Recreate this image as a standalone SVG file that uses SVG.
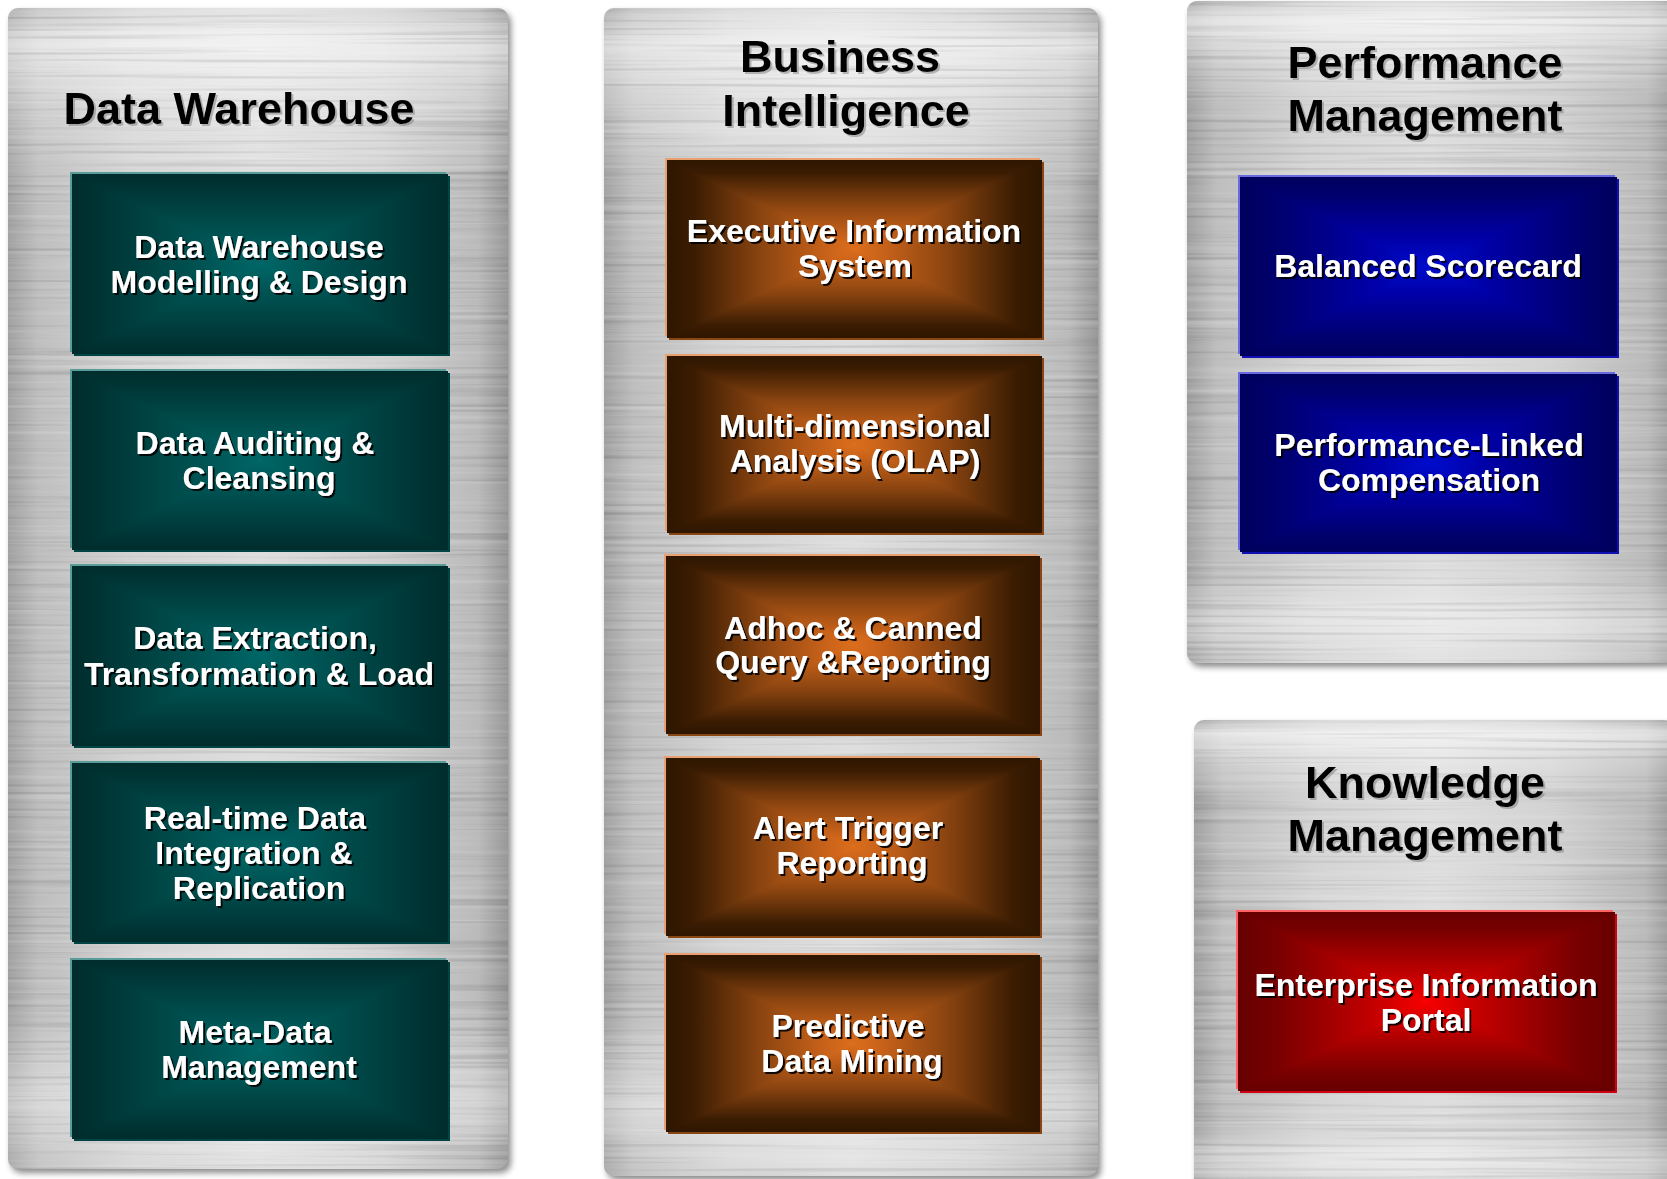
<svg xmlns="http://www.w3.org/2000/svg" width="1667" height="1179" viewBox="0 0 1667 1179">
<style>
.ttl{font-family:"Liberation Sans",Arial,Helvetica,sans-serif;font-weight:bold;font-size:45px;fill:#000;text-anchor:middle}
.lbl{font-family:"Liberation Sans",Arial,Helvetica,sans-serif;font-weight:bold;font-size:32px;fill:#fff;text-anchor:middle}
</style>
<defs>
  <!-- brushed metal panel shading -->
  <linearGradient id="metal" x1="0" y1="0" x2="1" y2="0">
    <stop offset="0" stop-color="#a2a2a2"/>
    <stop offset="0.06" stop-color="#bebebe"/>
    <stop offset="0.25" stop-color="#d4d4d4"/>
    <stop offset="0.5" stop-color="#dedede"/>
    <stop offset="0.75" stop-color="#d2d2d2"/>
    <stop offset="0.94" stop-color="#bababa"/>
    <stop offset="1" stop-color="#989898"/>
  </linearGradient>
  <linearGradient id="sheen" x1="0" y1="0" x2="0" y2="1">
    <stop offset="0" stop-color="#fff" stop-opacity="0.15"/>
    <stop offset="0.03" stop-color="#fff" stop-opacity="0.6"/>
    <stop offset="0.09" stop-color="#fff" stop-opacity="0.25"/>
    <stop offset="0.16" stop-color="#fff" stop-opacity="0"/>
    <stop offset="0.86" stop-color="#fff" stop-opacity="0"/>
    <stop offset="0.94" stop-color="#fff" stop-opacity="0.4"/>
    <stop offset="1" stop-color="#fff" stop-opacity="0.1"/>
  </linearGradient>
  <filter id="brushLight" x="0" y="0" width="1" height="1">
    <feTurbulence type="fractalNoise" baseFrequency="0.002 0.2" numOctaves="2" seed="3"/>
    <feColorMatrix type="matrix" values="0 0 0 0 1  0 0 0 0 1  0 0 0 0 1  0.5 0 0 0 -0.24"/>
    <feComposite in2="SourceGraphic" operator="in"/>
  </filter>
  <filter id="brushDark" x="0" y="0" width="1" height="1">
    <feTurbulence type="fractalNoise" baseFrequency="0.003 0.25" numOctaves="2" seed="11"/>
    <feColorMatrix type="matrix" values="0 0 0 0 0  0 0 0 0 0  0 0 0 0 0  0.35 0 0 0 -0.18"/>
    <feComposite in2="SourceGraphic" operator="in"/>
  </filter>
  <filter id="pshadow" x="-5%" y="-5%" width="110%" height="110%">
    <feGaussianBlur stdDeviation="3"/>
  </filter>
  <filter id="txtSh" x="-5%" y="-30%" width="115%" height="160%">
    <feDropShadow dx="2" dy="2" stdDeviation="0.4" flood-color="#000" flood-opacity="0.9"/>
  </filter>
  <filter id="ttlSh" x="-5%" y="-30%" width="115%" height="160%">
    <feDropShadow dx="2" dy="2" stdDeviation="0.6" flood-color="#7a7a7a" flood-opacity="0.5"/>
  </filter>

  <!-- rectangular (pyramid) box gradients: edge -> centre -->
  <linearGradient id="gTeal" x1="0" y1="0" x2="0" y2="1">
    <stop offset="0" stop-color="#002c2c"/>
    <stop offset="0.15" stop-color="#003434"/>
    <stop offset="0.6" stop-color="#004e4e"/>
    <stop offset="1" stop-color="#006666"/>
  </linearGradient>
  <linearGradient id="gOrange" x1="0" y1="0" x2="0" y2="1">
    <stop offset="0" stop-color="#2e1600"/>
    <stop offset="0.14" stop-color="#3a1c02"/>
    <stop offset="0.5" stop-color="#8a4410"/>
    <stop offset="0.85" stop-color="#c8621a"/>
    <stop offset="1" stop-color="#dc6e1c"/>
  </linearGradient>
  <linearGradient id="gBlue" x1="0" y1="0" x2="0" y2="1">
    <stop offset="0" stop-color="#00005c"/>
    <stop offset="0.2" stop-color="#00006e"/>
    <stop offset="0.7" stop-color="#0000a8"/>
    <stop offset="1" stop-color="#000ccc"/>
  </linearGradient>
  <linearGradient id="gRed" x1="0" y1="0" x2="0" y2="1">
    <stop offset="0" stop-color="#660000"/>
    <stop offset="0.2" stop-color="#780000"/>
    <stop offset="0.7" stop-color="#c00000"/>
    <stop offset="1" stop-color="#f80000"/>
  </linearGradient>

  <!-- unit pieces: half-height band (top) and side triangle; mirrored by transforms -->
  <rect id="half" width="1" height="0.5"/>
  <polygon id="tri" points="0,0 1,0 0.5,0.5"/>
  <g id="body-teal" fill="url(#gTeal)">
    <use href="#half"/>
    <use href="#half" transform="matrix(1 0 0 -1 0 1)"/>
    <use href="#tri" transform="matrix(0 1 1 0 0 0)"/>
    <use href="#tri" transform="matrix(0 1 -1 0 1 0)"/>
  </g>
  <g id="body-orange" fill="url(#gOrange)">
    <use href="#half"/>
    <use href="#half" transform="matrix(1 0 0 -1 0 1)"/>
    <use href="#tri" transform="matrix(0 1 1 0 0 0)"/>
    <use href="#tri" transform="matrix(0 1 -1 0 1 0)"/>
  </g>
  <g id="body-blue" fill="url(#gBlue)">
    <use href="#half"/>
    <use href="#half" transform="matrix(1 0 0 -1 0 1)"/>
    <use href="#tri" transform="matrix(0 1 1 0 0 0)"/>
    <use href="#tri" transform="matrix(0 1 -1 0 1 0)"/>
  </g>
  <g id="body-red" fill="url(#gRed)">
    <use href="#half"/>
    <use href="#half" transform="matrix(1 0 0 -1 0 1)"/>
    <use href="#tri" transform="matrix(0 1 1 0 0 0)"/>
    <use href="#tri" transform="matrix(0 1 -1 0 1 0)"/>
  </g>
</defs>

<rect width="1667" height="1179" fill="#fff"/>

<!-- ===== Panels ===== -->
<g id="panel-data-warehouse">
  <rect x="11" y="12" width="500" height="1161" rx="10" fill="#000" opacity="0.45" filter="url(#pshadow)"/>
  <rect x="8" y="8" width="500" height="1161" rx="10" fill="url(#metal)"/>
  <rect x="8" y="8" width="500" height="1161" rx="10" fill="url(#sheen)"/>
  <rect x="8" y="8" width="500" height="1161" rx="10" fill="#fff" filter="url(#brushLight)"/>
  <rect x="8" y="8" width="500" height="1161" rx="10" fill="#000" filter="url(#brushDark)"/>
  <text class="ttl" x="239" y="124" filter="url(#ttlSh)">Data Warehouse</text>
</g>

<g id="panel-business-intelligence">
  <rect x="607" y="12" width="494" height="1168" rx="10" fill="#000" opacity="0.45" filter="url(#pshadow)"/>
  <rect x="604" y="8" width="494" height="1168" rx="10" fill="url(#metal)"/>
  <rect x="604" y="8" width="494" height="1168" rx="10" fill="url(#sheen)"/>
  <rect x="604" y="8" width="494" height="1168" rx="10" fill="#fff" filter="url(#brushLight)"/>
  <rect x="604" y="8" width="494" height="1168" rx="10" fill="#000" filter="url(#brushDark)"/>
  <g filter="url(#ttlSh)">
    <text class="ttl" x="840" y="72">Business</text>
    <text class="ttl" x="846" y="126">Intelligence</text>
  </g>
</g>

<g id="panel-performance-management">
  <rect x="1190" y="5" width="490" height="662" rx="10" fill="#000" opacity="0.45" filter="url(#pshadow)"/>
  <rect x="1187" y="1" width="490" height="662" rx="10" fill="url(#metal)"/>
  <rect x="1187" y="1" width="490" height="662" rx="10" fill="url(#sheen)"/>
  <rect x="1187" y="1" width="490" height="662" rx="10" fill="#fff" filter="url(#brushLight)"/>
  <rect x="1187" y="1" width="490" height="662" rx="10" fill="#000" filter="url(#brushDark)"/>
  <g filter="url(#ttlSh)">
    <text class="ttl" x="1425" y="78">Performance</text>
    <text class="ttl" x="1425" y="131">Management</text>
  </g>
</g>

<g id="panel-knowledge-management">
  <rect x="1197" y="724" width="480" height="470" rx="10" fill="#000" opacity="0.45" filter="url(#pshadow)"/>
  <rect x="1194" y="720" width="480" height="470" rx="10" fill="url(#metal)"/>
  <rect x="1194" y="720" width="480" height="470" rx="10" fill="url(#sheen)"/>
  <rect x="1194" y="720" width="480" height="470" rx="10" fill="#fff" filter="url(#brushLight)"/>
  <rect x="1194" y="720" width="480" height="470" rx="10" fill="#000" filter="url(#brushDark)"/>
  <g filter="url(#ttlSh)">
    <text class="ttl" x="1425" y="798">Knowledge</text>
    <text class="ttl" x="1425" y="851">Management</text>
  </g>
</g>

<!-- ===== Data Warehouse boxes ===== -->
<g id="dw-modelling">
  <rect x="74" y="176" width="376" height="180" fill="#004444"/>
  <rect x="70" y="172" width="376" height="180" fill="#5a9c98"/>
  <use href="#body-teal" transform="translate(72 174) scale(376 180)"/>
  <g filter="url(#txtSh)"><text class="lbl" x="259" y="258">Data Warehouse</text><text class="lbl" x="259" y="293">Modelling &amp; Design</text></g>
</g>
<g id="dw-auditing">
  <rect x="74" y="373" width="376" height="179" fill="#004444"/>
  <rect x="70" y="369" width="376" height="179" fill="#5a9c98"/>
  <use href="#body-teal" transform="translate(72 371) scale(376 179)"/>
  <g filter="url(#txtSh)"><text class="lbl" x="255" y="454">Data Auditing &amp;</text><text class="lbl" x="259" y="489">Cleansing</text></g>
</g>
<g id="dw-etl">
  <rect x="74" y="568" width="376" height="180" fill="#004444"/>
  <rect x="70" y="564" width="376" height="180" fill="#5a9c98"/>
  <use href="#body-teal" transform="translate(72 566) scale(376 180)"/>
  <g filter="url(#txtSh)"><text class="lbl" x="255" y="649">Data Extraction,</text><text class="lbl" x="259" y="685">Transformation &amp; Load</text></g>
</g>
<g id="dw-realtime">
  <rect x="74" y="765" width="376" height="179" fill="#004444"/>
  <rect x="70" y="761" width="376" height="179" fill="#5a9c98"/>
  <use href="#body-teal" transform="translate(72 763) scale(376 179)"/>
  <g filter="url(#txtSh)"><text class="lbl" x="255" y="829">Real-time Data</text><text class="lbl" x="254" y="864">Integration &amp;</text><text class="lbl" x="259" y="899">Replication</text></g>
</g>
<g id="dw-metadata">
  <rect x="74" y="962" width="376" height="179" fill="#004444"/>
  <rect x="70" y="958" width="376" height="179" fill="#5a9c98"/>
  <use href="#body-teal" transform="translate(72 960) scale(376 179)"/>
  <g filter="url(#txtSh)"><text class="lbl" x="255" y="1043">Meta-Data</text><text class="lbl" x="259" y="1078">Management</text></g>
</g>

<!-- ===== Business Intelligence boxes ===== -->
<g id="bi-eis">
  <rect x="669" y="162" width="375" height="178" fill="#8a4612"/>
  <rect x="665" y="158" width="375" height="178" fill="#e8a070"/>
  <use href="#body-orange" transform="translate(667 160) scale(375 178)"/>
  <g filter="url(#txtSh)"><text class="lbl" x="854" y="242">Executive Information</text><text class="lbl" x="855" y="277">System</text></g>
</g>
<g id="bi-olap">
  <rect x="669" y="358" width="375" height="177" fill="#8a4612"/>
  <rect x="665" y="354" width="375" height="177" fill="#e8a070"/>
  <use href="#body-orange" transform="translate(667 356) scale(375 177)"/>
  <g filter="url(#txtSh)"><text class="lbl" x="855" y="437">Multi-dimensional</text><text class="lbl" x="855" y="472">Analysis (OLAP)</text></g>
</g>
<g id="bi-query">
  <rect x="668" y="558" width="374" height="178" fill="#8a4612"/>
  <rect x="664" y="554" width="374" height="178" fill="#e8a070"/>
  <use href="#body-orange" transform="translate(666 556) scale(374 178)"/>
  <g filter="url(#txtSh)"><text class="lbl" x="853" y="639">Adhoc &amp; Canned</text><text class="lbl" x="853" y="673">Query &amp;Reporting</text></g>
</g>
<g id="bi-alert">
  <rect x="668" y="760" width="374" height="178" fill="#8a4612"/>
  <rect x="664" y="756" width="374" height="178" fill="#e8a070"/>
  <use href="#body-orange" transform="translate(666 758) scale(374 178)"/>
  <g filter="url(#txtSh)"><text class="lbl" x="848" y="839">Alert Trigger</text><text class="lbl" x="852" y="874">Reporting</text></g>
</g>
<g id="bi-mining">
  <rect x="668" y="957" width="374" height="177" fill="#8a4612"/>
  <rect x="664" y="953" width="374" height="177" fill="#e8a070"/>
  <use href="#body-orange" transform="translate(666 955) scale(374 177)"/>
  <g filter="url(#txtSh)"><text class="lbl" x="848" y="1037">Predictive</text><text class="lbl" x="852" y="1072">Data Mining</text></g>
</g>

<!-- ===== Performance Management boxes ===== -->
<g id="pm-scorecard">
  <rect x="1242" y="179" width="377" height="179" fill="#1010b4"/>
  <rect x="1238" y="175" width="377" height="179" fill="#6a6ae0"/>
  <use href="#body-blue" transform="translate(1240 177) scale(377 179)"/>
  <g filter="url(#txtSh)"><text class="lbl" x="1428" y="277">Balanced Scorecard</text></g>
</g>
<g id="pm-compensation">
  <rect x="1242" y="376" width="377" height="178" fill="#1010b4"/>
  <rect x="1238" y="372" width="377" height="178" fill="#6a6ae0"/>
  <use href="#body-blue" transform="translate(1240 374) scale(377 178)"/>
  <g filter="url(#txtSh)"><text class="lbl" x="1429" y="456">Performance-Linked</text><text class="lbl" x="1429" y="491">Compensation</text></g>
</g>

<!-- ===== Knowledge Management box ===== -->
<g id="km-portal">
  <rect x="1240" y="914" width="377" height="179" fill="#d00010"/>
  <rect x="1236" y="910" width="377" height="179" fill="#ff6464"/>
  <use href="#body-red" transform="translate(1238 912) scale(377 179)"/>
  <g filter="url(#txtSh)"><text class="lbl" x="1426" y="996">Enterprise Information</text><text class="lbl" x="1426" y="1031">Portal</text></g>
</g>

<!-- no connectors in this diagram -->
<g id="connectors"/>
</svg>
